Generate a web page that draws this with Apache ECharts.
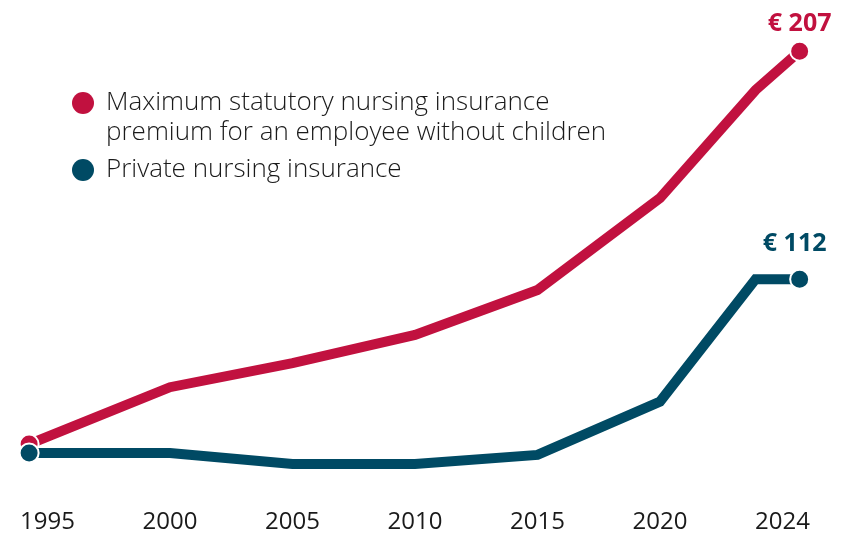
<!DOCTYPE html>
<html>
<head>
<meta charset="utf-8">
<script src="https://cdn.jsdelivr.net/npm/echarts@6/dist/echarts.min.js"></script>
<style>html,body{margin:0;padding:0;background:#fff}#c{width:849px;height:535px}</style>
</head>
<body>
<div id="c"></div>
<script>
// Data
const years = [1994.25, 2000, 2005, 2010, 2015, 2020, 2023.9, 2025.7];
const statutory = [43.3, 67, 77, 88.8, 107.5, 145.8, 190.8, 207];
const privateIns = [39.6, 39.6, 35, 35, 38.8, 61, 112, 112];
const tickValues = [1995, 2000, 2005, 2010, 2015, 2020, 2025];
const tickLabels = ['1995', '2000', '2005', '2010', '2015', '2020', '2024'];
const nameStat = 'Maximum statutory nursing insurance\npremium for an employee without children';
const namePriv = 'Private nursing insurance';
const endStat = '€ 207';
const endPriv = '€ 112';

const RED = '#C1113F';
const BLUE = '#004A64';

function buildData(vals, color, endLabel, labelOffset) {
  const last = vals.length - 1;
  return vals.map((v, i) => {
    const item = { value: [years[i], v] };
    if (i === 0 || i === last) {
      item.symbol = 'circle';
      item.symbolSize = 19;
      item.itemStyle = { color: color, borderColor: '#fff', borderWidth: 2 };
    } else {
      item.symbol = 'none';
    }
    if (i === last) {
      item.label = {
        show: true, position: 'top', formatter: endLabel, color: color,
        fontFamily: 'Open Sans', fontWeight: 'bold', fontSize: 25,
        distance: 6, offset: labelOffset
      };
    }
    return item;
  });
}

const legendText = { fontFamily: 'Open Sans', fontWeight: 300, fontSize: 26, lineHeight: 30, color: '#1a1a1a', padding: [0, 0, 0, 7] };

const chart = echarts.init(document.getElementById('c'), null, { renderer: 'canvas' });
chart.setOption({
  animation: false,
  backgroundColor: '#fff',
  grid: { left: 23, right: 42, top: 20, bottom: 35, containLabel: false },
  xAxis: {
    type: 'value', min: 1994, max: 2026,
    axisLine: { show: false }, axisTick: { show: false }, splitLine: { show: false },
    axisLabel: {
      customValues: tickValues,
      formatter: v => tickLabels[tickValues.indexOf(v)] || '',
      fontFamily: 'Open Sans', fontSize: 24, color: '#1a1a1a', margin: 10
    }
  },
  yAxis: { type: 'value', min: 20, max: 220, show: false, splitLine: { show: false } },
  legend: [
    {
      data: [nameStat], left: 72, top: 58, padding: 0, selectedMode: false,
      icon: 'circle', itemWidth: 22, itemHeight: 22,
      formatter: n => ' \n' + n,
      textStyle: legendText
    },
    {
      data: [namePriv], left: 72, top: 155, padding: 0, selectedMode: false,
      icon: 'circle', itemWidth: 22, itemHeight: 22,
      textStyle: legendText
    }
  ],
  series: [
    {
      name: nameStat, type: 'line', color: RED,
      lineStyle: { width: 10, color: RED, join: 'miter' },
      data: buildData(statutory, RED, endStat, [0, 2]), z: 2
    },
    {
      name: namePriv, type: 'line', color: BLUE,
      lineStyle: { width: 10, color: BLUE, join: 'miter' },
      data: buildData(privateIns, BLUE, endPriv, [-5, -6]), z: 3
    }
  ]
});
</script>
</body>
</html>
